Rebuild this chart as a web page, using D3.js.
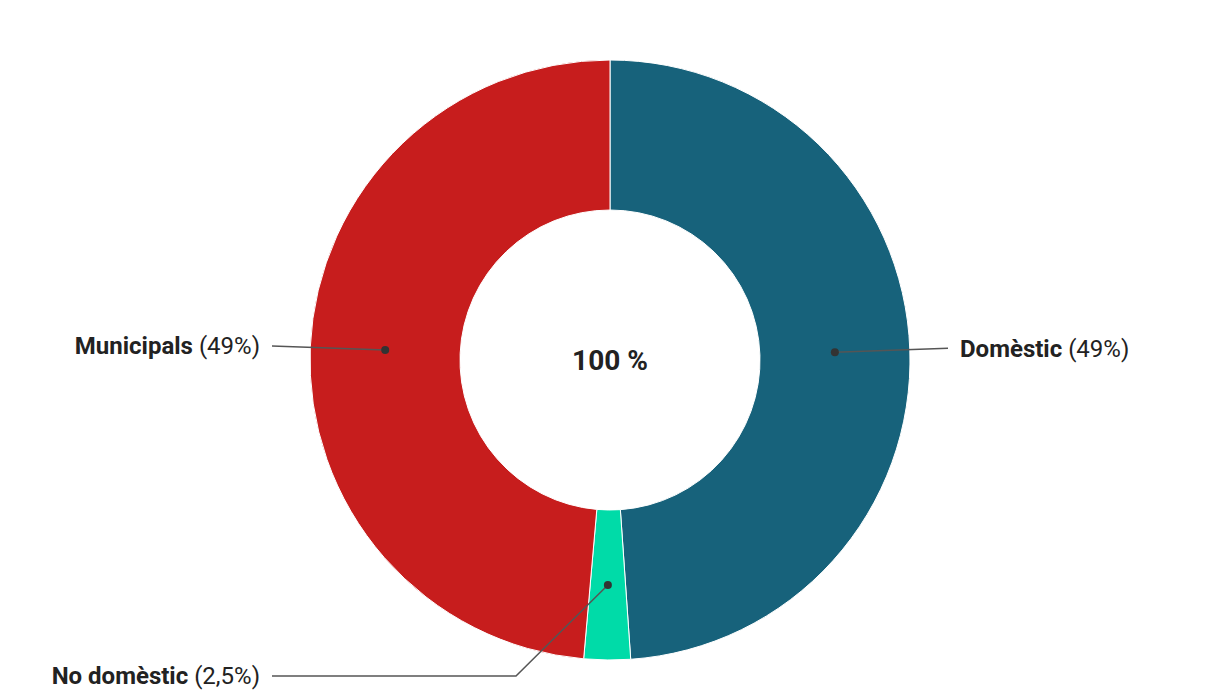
<!DOCTYPE html>
<html><head><meta charset="utf-8">
<script src="https://cdn.jsdelivr.net/npm/d3@7"></script>
<style>body{margin:0;background:#fff;}svg{display:block;font-family:Roboto,sans-serif;}</style>
</head><body>
<svg id="chart" width="1220" height="700"></svg>
<script>
const categories = ["Domèstic", "No domèstic", "Municipals"];
const values = [48.9, 2.5, 48.6];
const valueLabels = ["49%", "2,5%", "49%"];
const colors = ["#17627b", "#00dba8", "#c71d1d"];
const centerLabel = "100 %";

const svg = d3.select("#chart");
const cx = 610, cy = 360, outerR = 300, innerR = 150;
const g = svg.append("g").attr("transform", `translate(${cx},${cy})`);

const data = categories.map((c, i) => ({name: c, value: values[i], label: valueLabels[i], color: colors[i]}));
const pie = d3.pie().value(d => d.value).sort(null);
const arcs = pie(data);
const arc = d3.arc().innerRadius(innerR).outerRadius(outerR);
const midArc = d3.arc().innerRadius((innerR + outerR) / 2).outerRadius((innerR + outerR) / 2);

g.selectAll("path.slice").data(arcs).join("path")
  .attr("class", "slice")
  .attr("d", arc)
  .attr("fill", d => d.data.color)
  .attr("stroke", "#fff").attr("stroke-width", 1);

const layouts = {
  "Domèstic": {pts: c => [c, [948 - cx, c[1] - 4]], tx: 960 - cx, ty: 349 - cy, anchor: "start"},
  "Municipals": {pts: c => [c, [272 - cx, c[1] - 4]], tx: 260 - cx, ty: 346 - cy, anchor: "end"},
  "No domèstic": {pts: c => [c, [516 - cx, 676 - cy], [272 - cx, 676 - cy]], tx: 260 - cx, ty: 676 - cy, anchor: "end"}
};

arcs.forEach(a => {
  const c = midArc.centroid(a);
  const L = layouts[a.data.name];
  g.append("path")
    .attr("d", d3.line()(L.pts(c)))
    .attr("fill", "none").attr("stroke", "#555").attr("stroke-width", 1.5);
  g.append("circle").attr("cx", c[0]).attr("cy", c[1]).attr("r", 4).attr("fill", "#333");
  const t = g.append("text")
    .attr("x", L.tx).attr("y", L.ty)
    .attr("dy", "0.35em")
    .attr("text-anchor", L.anchor)
    .attr("font-size", 24).attr("fill", "#222");
  t.append("tspan").attr("font-weight", "bold").text(a.data.name);
  t.append("tspan").attr("font-weight", "normal").text(" (" + a.data.label + ")");
});

g.append("text").attr("x", 0).attr("y", 0).attr("dy", "0.35em")
  .attr("text-anchor", "middle").attr("font-size", 28).attr("font-weight", "bold")
  .attr("fill", "#222").text(centerLabel);
</script>
</body></html>
